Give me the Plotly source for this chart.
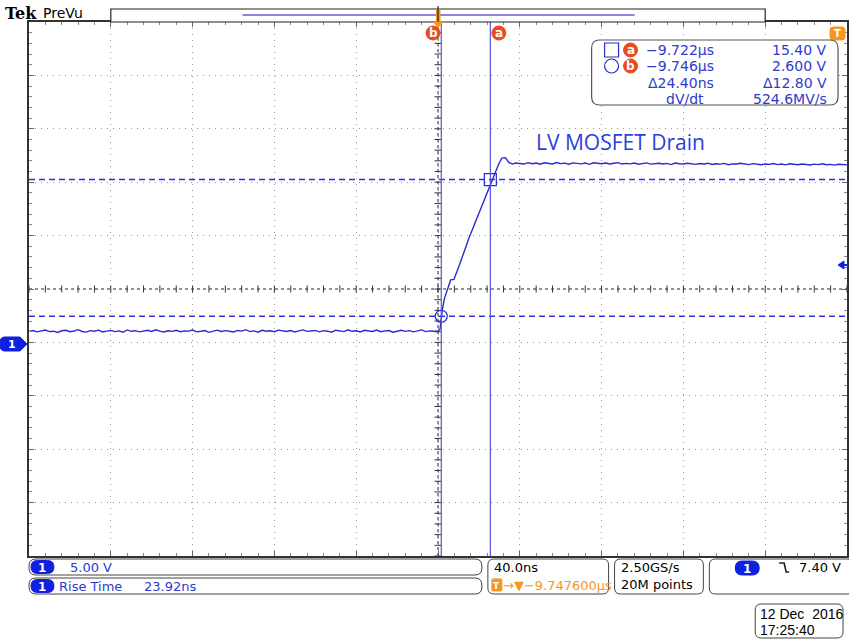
import plotly.graph_objects as go

# ---------------- data ----------------
center_us = -9.7476          # time at screen centre (µs)
ns_per_div = 40.0
volts_per_div = 5.0
sample_step_ns = 2.0

# baseline samples, t = -200 ... 0 ns (step 2 ns)
baseline_v = [1.18,1.26,1.14,1.23,1.31,1.16,1.20,1.08,1.24,1.29,
              1.15,1.22,1.34,1.17,1.11,1.25,1.20,1.30,1.13,1.21,
              1.27,1.16,1.23,1.10,1.32,1.19,1.25,1.14,1.22,1.28,
              1.17,1.33,1.20,1.12,1.24,1.18,1.29,1.15,1.23,1.21,
              1.31,1.14,1.19,1.26,1.09,1.22,1.30,1.17,1.25,1.20,
              1.13,1.27,1.21,1.34,1.16,1.23,1.11,1.28,1.19,1.24,
              1.15,1.30,1.22,1.17,1.26,1.12,1.23,1.32,1.18,1.21,
              1.27,1.14,1.25,1.20,1.10,1.29,1.22,1.16,1.33,1.19,
              1.24,1.13,1.28,1.21,1.17,1.31,1.15,1.23,1.26,1.11,
              1.22,1.29,1.18,1.25,1.14,1.20,1.32,1.16,1.23,1.19,1.22]
# rising edge (ns, V)
edge_t = [1.0, 1.6, 2.1, 3.2, 4.5, 6.2, 7.8, 10.2, 15.1, 20.0, 23.3, 26.2,
          28.1, 29.8, 31.2, 33.0, 34.6, 36.5, 38.0]
edge_v = [1.40, 2.60, 3.20, 4.30, 5.10, 6.00, 6.05, 7.25, 9.90, 12.25, 13.80,
          15.25, 16.10, 16.90, 17.40, 17.45, 17.00, 16.85, 16.95]
# plateau samples, t = 40 ... 200 ns (step 2 ns)
plateau_v = [16.92,16.85,16.98,16.88,16.95,16.83,16.97,16.90,16.86,16.99,
             16.89,16.93,16.84,16.96,16.91,16.87,16.94,16.82,16.97,16.90,
             16.88,16.95,16.86,16.92,16.98,16.85,16.91,16.87,16.94,16.83,
             16.90,16.96,16.84,16.89,16.93,16.86,16.91,16.80,16.95,16.88,
             16.85,16.92,16.87,16.82,16.90,16.86,16.93,16.81,16.88,16.84,
             16.91,16.79,16.87,16.85,16.92,16.83,16.80,16.89,16.84,16.78,
             16.86,16.82,16.90,16.80,16.85,16.77,16.88,16.83,16.79,16.86,
             16.81,16.76,16.84,16.80,16.87,16.78,16.82,16.75,16.83,16.79,16.77]

cursor_a_us, cursor_a_v = -9.722, 15.40
cursor_b_us, cursor_b_v = -9.746, 2.600
trigger_level_v = 7.40
center_v = 5.15              # volts at screen centre (ground marker 1.03 div below)

readout_time = ["\u22129.722\u00b5s", "\u22129.746\u00b5s", "\u039424.40ns", "dV/dt"]
readout_volt = ["15.40 V", "2.600 V", "\u039412.80 V", "524.6MV/s"]

# ---------------- build series ----------------
base_t = [-200 + i * sample_step_ns for i in range(len(baseline_v))]
plat_t = [40 + i * sample_step_ns for i in range(len(plateau_v))]
t_all = base_t + edge_t + plat_t
v_all = baseline_v + edge_v + plateau_v

ta = (cursor_a_us - center_us) * 1000
tb = (cursor_b_us - center_us) * 1000

xr = [-5 * ns_per_div, 5 * ns_per_div]
yr = [center_v - 5 * volts_per_div, center_v + 5 * volts_per_div]

BLUE = "#2a2ad2"
TXT = "#2b3bcf"
ORANGE = "#f5961e"
RED = "#ea4a1c"

# pixel -> paper helpers
L, R, T, B = 29, 849, 22, 556
def px(x): return (x - L) / (R - L)
def py(y): return (B - y) / (B - T)

def rrect(x0, y0, x1, y1, r):
    p = [f"M {px(x0+r)} {py(y0)}", f"L {px(x1-r)} {py(y0)}",
         f"Q {px(x1)} {py(y0)} {px(x1)} {py(y0+r)}", f"L {px(x1)} {py(y1-r)}",
         f"Q {px(x1)} {py(y1)} {px(x1-r)} {py(y1)}", f"L {px(x0+r)} {py(y1)}",
         f"Q {px(x0)} {py(y1)} {px(x0)} {py(y1-r)}", f"L {px(x0)} {py(y0+r)}",
         f"Q {px(x0)} {py(y0)} {px(x0+r)} {py(y0)}", "Z"]
    return " ".join(p)

shapes = []
annots = []

def box(x0, y0, x1, y1, r=6, color="#555", fill="white", width=1):
    shapes.append(dict(type="path", xref="paper", yref="paper", path=rrect(x0, y0, x1, y1, r),
                       line=dict(color=color, width=width), fillcolor=fill, layer="above"))

def text(x, y, s, color="black", size=13, anchor="left", family="DejaVu Sans", bold=False):
    if bold:
        s = "<b>" + s + "</b>"
    annots.append(dict(x=px(x), y=py(y), xref="paper", yref="paper", text=s, showarrow=False,
                       xanchor=anchor, yanchor="middle", font=dict(color=color, size=size, family=family)))

def pill(x0, y0, x1, y1, label="1"):
    box(x0, y0, x1, y1, r=(y1 - y0) / 2, color="#1020e0", fill="#1020e0")
    text((x0 + x1) / 2, (y0 + y1) / 2 + 0.5, label, color="white", size=12, anchor="center", bold=True)

def ball(cx, cy, label, r=7):
    shapes.append(dict(type="circle", xref="paper", yref="paper", x0=px(cx - r), x1=px(cx + r),
                       y0=py(cy + r), y1=py(cy - r), fillcolor=RED, line=dict(color=RED, width=1), layer="above"))
    text(cx, cy, label, color="white", size=12, anchor="center", bold=True)

# centre crosshair (black dotted)
shapes.append(dict(type="line", xref="x", yref="paper", x0=0, x1=0, y0=0, y1=1,
                   line=dict(color="#222", width=1, dash="dot"), layer="below"))
shapes.append(dict(type="line", xref="paper", yref="y", x0=0, x1=1, y0=center_v, y1=center_v,
                   line=dict(color="#222", width=1, dash="dot"), layer="below"))
# vertical cursors
for tc in (tb, ta):
    shapes.append(dict(type="line", xref="x", yref="paper", x0=tc, x1=tc, y0=0, y1=1,
                       line=dict(color="#5555dd", width=1.2), layer="above"))

# header
shapes.append(dict(type="rect", xref="paper", yref="paper", x0=px(111), x1=px(767), y0=py(22), y1=py(9),
                   line=dict(color="#222", width=1.2), fillcolor="white"))
shapes.append(dict(type="line", xref="paper", yref="paper", x0=px(243), x1=px(636), y0=py(15), y1=py(15),
                   line=dict(color="#8c86e0", width=2)))
shapes.append(dict(type="rect", xref="paper", yref="paper", x0=px(437), x1=px(441.5), y0=py(22), y1=py(9),
                   line=dict(color=ORANGE, width=0), fillcolor=ORANGE))
shapes.append(dict(type="line", xref="paper", yref="paper", x0=px(439), x1=px(439), y0=py(22), y1=py(6),
                   line=dict(color="#222", width=1.2)))
shapes.append(dict(type="path", xref="paper", yref="paper",
                   path=f"M {px(434)} {py(22)} L {px(444)} {py(22)} L {px(439)} {py(28)} Z",
                   fillcolor=ORANGE, line=dict(color=ORANGE, width=0)))
text(3, 13, "Tek", size=16, family="DejaVu Serif", bold=True)
text(41, 13, "PreVu", size=14, family="DejaVu Sans")

# cursor labels
ball(434, 33, "b")
ball(500, 33, "a")
# trigger-position marker (top right)
box(832, 27, 847, 40, r=3, color=ORANGE, fill=ORANGE)
text(839, 33.5, "T", color="white", size=10, anchor="center", bold=True)

# trigger level arrow (right)
shapes.append(dict(type="path", xref="paper", yref="paper",
                   path=f"M {px(840)} {py(265)} L {px(846)} {py(261)} L {px(846)} {py(269)} Z",
                   fillcolor="#1020e0", line=dict(color="#1020e0", width=1)))
shapes.append(dict(type="line", xref="paper", yref="paper", x0=px(844), x1=px(849), y0=py(265), y1=py(265),
                   line=dict(color="#1020e0", width=2)))
# channel 1 ground marker (left)
shapes.append(dict(type="path", xref="paper", yref="paper",
                   path=(f"M {px(5)} {py(337)} L {px(20)} {py(337)} L {px(27)} {py(344)} "
                         f"L {px(20)} {py(351)} L {px(5)} {py(351)} Q {px(0)} {py(351)} {px(0)} {py(346)} "
                         f"L {px(0)} {py(342)} Q {px(0)} {py(337)} {px(5)} {py(337)} Z"),
                   fillcolor="#1020e0", line=dict(color="#1020e0", width=1)))
text(12, 344.5, "1", color="white", size=11, anchor="center", bold=True)

# readout box
box(593, 40, 840, 105, r=8, color="#555", width=1.2)
shapes.append(dict(type="rect", xref="paper", yref="paper", x0=px(606), x1=px(620), y0=py(57), y1=py(43),
                   line=dict(color="#2030c8", width=1.2), fillcolor="white"))
shapes.append(dict(type="circle", xref="paper", yref="paper", x0=px(606), x1=px(620), y0=py(73), y1=py(59),
                   line=dict(color="#2030c8", width=1.2), fillcolor="white"))
ball(632, 50, "a")
ball(632, 66, "b")
rows_y = [50, 66, 83, 99]
for i, y in enumerate(rows_y):
    if readout_time[i] == "dV/dt":
        text(687, y, readout_time[i], color=TXT, anchor="center", size=14)
    else:
        text(718, y, readout_time[i], color=TXT, anchor="right", size=14)
    text(831, y, readout_volt[i], color=TXT, anchor="right", size=14)

# waveform label
text(535, 142, "LV MOSFET Drain", color="#2a3ee0", size=21, family="Open Sans")

# bottom boxes
box(29, 559, 483, 575, r=7, color="#444")
pill(31, 560.5, 54, 573.5)
text(68, 567, "5.00 V", color=TXT)
box(29, 578, 483, 594, r=7, color="#444")
pill(31, 579.5, 54, 592.5)
text(57, 586, "Rise Time", color=TXT)
text(142, 586, "23.92ns", color=TXT)

box(489, 559, 610, 594, r=6, color="#444")
text(493, 567, "40.0ns")
box(493, 579, 503, 591, r=1, color=ORANGE, fill=ORANGE)
text(498, 585.5, "T", color="white", size=9, anchor="center", bold=True)
text(502, 585, "\u2192\u25bc\u22129.747600\u00b5s", color=ORANGE, size=13)

box(616, 559, 705, 594, r=6, color="#444")
text(620, 567, "2.50GS/s")
text(620, 584, "20M points")

box(711, 559, 855, 594, r=6, color="#444")
pill(737, 561, 761, 575)
shapes.append(dict(type="path", xref="paper", yref="paper",
                   path=f"M {px(781)} {py(563)} L {px(786)} {py(563)} L {px(788)} {py(572)} L {px(791)} {py(572)}",
                   line=dict(color="#222", width=1.6)))
text(845, 567, "7.40 V", anchor="right")

box(757, 604, 845, 638, r=6, color="#444")
text(760, 614, "12 Dec  2016", size=14, family="Liberation Sans")
text(760, 630, "17:25:40", size=14, family="Liberation Sans")

# ---------------- traces ----------------
fig = go.Figure()
# horizontal cursors (dashed)
for vc in (cursor_a_v, cursor_b_v):
    fig.add_trace(go.Scatter(x=xr, y=[vc, vc], mode="lines",
                             line=dict(color="#2f2fe8", width=1.6, dash="6px,4px"),
                             hoverinfo="skip", showlegend=False))
fig.add_trace(go.Scatter(x=t_all, y=v_all, mode="lines", line=dict(color=BLUE, width=1.4),
                         hoverinfo="skip", showlegend=False))
# crosshair tick marks
xt = [xr[0] + i * ns_per_div / 5 for i in range(51)]
yt = [yr[0] + i * volts_per_div / 5 for i in range(51)]
fig.add_trace(go.Scatter(x=xt, y=[center_v] * len(xt), mode="markers",
                         marker=dict(symbol="line-ns", size=5, color="#333", line=dict(color="#333", width=1)),
                         hoverinfo="skip", showlegend=False))
fig.add_trace(go.Scatter(x=[0] * len(yt), y=yt, mode="markers",
                         marker=dict(symbol="line-ew", size=5, color="#333", line=dict(color="#333", width=1)),
                         hoverinfo="skip", showlegend=False))
# cursor markers
fig.add_trace(go.Scatter(x=[tb], y=[cursor_b_v], mode="markers",
                         marker=dict(symbol="circle-open", size=12, color=BLUE, line=dict(color=BLUE, width=1.2)),
                         hoverinfo="skip", showlegend=False))
fig.add_trace(go.Scatter(x=[ta], y=[cursor_a_v], mode="markers",
                         marker=dict(symbol="square-open", size=12, color=BLUE, line=dict(color=BLUE, width=1.2)),
                         hoverinfo="skip", showlegend=False))

GRIDDASH = "1px,5px"
fig.update_layout(
    width=849, height=639, autosize=False,
    margin=dict(l=L, r=0, t=T, b=639 - B, pad=0),
    paper_bgcolor="white", plot_bgcolor="white",
    shapes=shapes, annotations=annots, showlegend=False,
    xaxis=dict(range=xr, tick0=0, dtick=ns_per_div, showticklabels=False,
               showgrid=True, gridcolor="#999999", griddash=GRIDDASH, gridwidth=1, zeroline=False,
               showline=True, linecolor="#333", linewidth=1.5, mirror="allticks",
               ticks="inside", ticklen=5, tickcolor="#666",
               minor=dict(dtick=ns_per_div / 5, tick0=0, ticks="inside", ticklen=3, tickcolor="#888",
                          showgrid=False),
               fixedrange=True),
    yaxis=dict(range=yr, tick0=center_v, dtick=volts_per_div, showticklabels=False,
               showgrid=True, gridcolor="#999999", griddash=GRIDDASH, gridwidth=1, zeroline=False,
               showline=True, linecolor="#333", linewidth=1.5, mirror="allticks",
               ticks="inside", ticklen=5, tickcolor="#666",
               minor=dict(dtick=volts_per_div / 5, tick0=center_v, ticks="inside", ticklen=3,
                          tickcolor="#888", showgrid=False),
               fixedrange=True),
)

fig.write_html("out.html", config={"displayModeBar": False})
with open("out.html", "r", encoding="utf-8") as f:
    html = f.read()
html = html.replace("<head>", "<head><style>html,body{margin:0;padding:0;overflow:hidden;}</style>", 1)
with open("out.html", "w", encoding="utf-8") as f:
    f.write(html)
